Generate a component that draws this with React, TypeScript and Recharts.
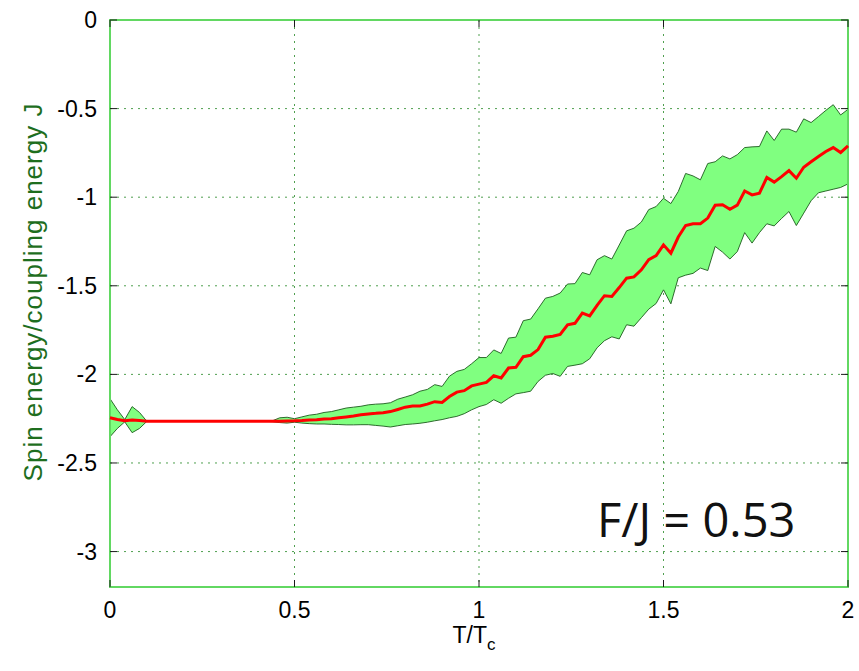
import { ComposedChart, Area, Line, XAxis, YAxis, CartesianGrid, ReferenceArea } from "recharts";

// reduced temperature T/Tc, sampled every 0.02
const temps = [
  0, 0.02, 0.04, 0.06, 0.08, 0.1, 0.12, 0.14, 0.16, 0.18, 0.2, 0.22, 0.24, 0.26, 0.28, 0.3, 0.32, 0.34, 0.36, 0.38,
  0.4, 0.42, 0.44, 0.46, 0.48, 0.5, 0.52, 0.54, 0.56, 0.58, 0.6, 0.62, 0.64, 0.66, 0.68, 0.7, 0.72, 0.74, 0.76, 0.78,
  0.8, 0.82, 0.84, 0.86, 0.88, 0.9, 0.92, 0.94, 0.96, 0.98, 1, 1.02, 1.04, 1.06, 1.08, 1.1, 1.12, 1.14, 1.16, 1.18,
  1.2, 1.22, 1.24, 1.26, 1.28, 1.3, 1.32, 1.34, 1.36, 1.38, 1.4, 1.42, 1.44, 1.46, 1.48, 1.5, 1.52, 1.54, 1.56, 1.58,
  1.6, 1.62, 1.64, 1.66, 1.68, 1.7, 1.72, 1.74, 1.76, 1.78, 1.8, 1.82, 1.84, 1.86, 1.88, 1.9, 1.92, 1.94, 1.96, 1.98, 2,
];

const meanEnergy = [
  -2.245, -2.255, -2.262, -2.258, -2.26, -2.265, -2.265, -2.265, -2.265, -2.265, -2.265, -2.265, -2.265, -2.265, -2.265, -2.265, -2.265, -2.265, -2.265, -2.265,
  -2.265, -2.265, -2.265, -2.265, -2.263, -2.262, -2.26, -2.257, -2.256, -2.252, -2.25, -2.245, -2.24, -2.235, -2.228, -2.223, -2.22, -2.216, -2.21, -2.198,
  -2.185, -2.178, -2.178, -2.168, -2.154, -2.158, -2.125, -2.1, -2.092, -2.065, -2.055, -2.045, -2.008, -2.02, -1.964, -1.96, -1.9, -1.892, -1.86, -1.79,
  -1.785, -1.775, -1.72, -1.712, -1.654, -1.67, -1.61, -1.556, -1.56, -1.51, -1.457, -1.45, -1.41, -1.353, -1.33, -1.269, -1.316, -1.225, -1.16, -1.15,
  -1.15, -1.118, -1.045, -1.043, -1.068, -1.045, -0.965, -0.987, -0.977, -0.889, -0.915, -0.884, -0.85, -0.893, -0.831, -0.8, -0.77, -0.742, -0.72, -0.748, -0.71,
];

const upperEnergy = [
  -2.137, -2.2, -2.255, -2.182, -2.215, -2.265, -2.265, -2.265, -2.265, -2.265, -2.265, -2.265, -2.265, -2.265, -2.265, -2.265, -2.265, -2.265, -2.265, -2.265,
  -2.265, -2.265, -2.262, -2.245, -2.242, -2.25, -2.24, -2.23, -2.225, -2.215, -2.21, -2.2, -2.19, -2.185, -2.18, -2.172, -2.168, -2.166, -2.16, -2.14,
  -2.128, -2.115, -2.095, -2.085, -2.058, -2.068, -2.01, -1.983, -1.972, -1.94, -1.905, -1.905, -1.862, -1.882, -1.795, -1.79, -1.697, -1.688, -1.63, -1.57,
  -1.56, -1.541, -1.49, -1.488, -1.425, -1.438, -1.353, -1.33, -1.349, -1.27, -1.19, -1.175, -1.14, -1.07, -1.053, -1.006, -1.036, -0.968, -0.866, -0.88,
  -0.902, -0.81, -0.8, -0.767, -0.784, -0.76, -0.72, -0.716, -0.714, -0.626, -0.68, -0.616, -0.616, -0.633, -0.558, -0.579, -0.545, -0.51, -0.478, -0.536, -0.504,
];

const lowerEnergy = [
  -2.352, -2.305, -2.268, -2.329, -2.305, -2.265, -2.265, -2.265, -2.265, -2.265, -2.265, -2.265, -2.265, -2.265, -2.265, -2.265, -2.265, -2.265, -2.265, -2.265,
  -2.265, -2.265, -2.267, -2.272, -2.275, -2.27, -2.275, -2.278, -2.28, -2.28, -2.282, -2.283, -2.285, -2.285, -2.284, -2.284, -2.288, -2.292, -2.297, -2.29,
  -2.283, -2.28, -2.276, -2.27, -2.262, -2.255, -2.245, -2.237, -2.222, -2.2, -2.182, -2.17, -2.143, -2.163, -2.135, -2.11, -2.103, -2.095, -2.04, -2.005,
  -1.995, -2.011, -1.955, -1.948, -1.94, -1.912, -1.85, -1.81, -1.788, -1.8, -1.72, -1.728, -1.68, -1.632, -1.6, -1.523, -1.602, -1.455, -1.44, -1.43,
  -1.4, -1.414, -1.278, -1.31, -1.349, -1.307, -1.2, -1.259, -1.2, -1.15, -1.162, -1.12, -1.081, -1.16, -1.09, -1.02, -0.975, -0.965, -0.955, -0.945, -0.925,
];

const xTicks = [0, 0.5, 1, 1.5, 2];
const yTicks = [0, -0.5, -1, -1.5, -2, -2.5, -3];

const rows = temps.map((t, i) => ({
  t,
  mean: meanEnergy[i],
  band: [lowerEnergy[i], upperEnergy[i]],
}));

const W = 859;
const H = 671;
const box = { left: 110, right: 848, top: 20, bottom: 587 };
const font = "'Liberation Sans', Arial, sans-serif";

function XTick(props: any) {
  const { x, payload } = props;
  return (
    <g>
      <line x1={x} x2={x} y1={box.bottom} y2={box.bottom - 7} stroke="#1a1a1a" />
      <line x1={x} x2={x} y1={box.top} y2={box.top + 7} stroke="#1a1a1a" />
      <text x={x} y={box.bottom + 31} textAnchor="middle" fontSize={23} fontFamily={font} fill="#000">
        {payload.value}
      </text>
    </g>
  );
}

function YTick(props: any) {
  const { y, payload } = props;
  return (
    <g>
      <line x1={box.left} x2={box.left + 7} y1={y} y2={y} stroke="#1a1a1a" />
      <line x1={box.right} x2={box.right - 7} y1={y} y2={y} stroke="#1a1a1a" />
      <text x={97} y={y + 8} textAnchor="end" fontSize={23} fontFamily={font} fill="#000">
        {payload.value}
      </text>
    </g>
  );
}

const xLabel = () => (
  <text x={474} y={643} textAnchor="middle" fontSize={23} fontFamily={font} fill="#000">
    T/T
    <tspan fontSize={17} dy={7}>c</tspan>
  </text>
);

const yLabel = () => (
  <text
    x={33}
    y={292}
    transform="rotate(-90 33 292)"
    textAnchor="middle"
    dominantBaseline="central"
    fontSize={26}
    letterSpacing={1}
    fontFamily={font}
    fill="#1e6e1e"
  >
    Spin energy/coupling energy J
  </text>
);

export default function App() {
  return (
    <div style={{ position: "absolute", left: 0, top: 0, width: W, height: H, background: "#fff" }}>
      <ComposedChart width={W} height={H} data={rows} margin={{ top: 20, right: 11, left: 0, bottom: 0 }}>
        <CartesianGrid stroke="#4f9f4f" strokeDasharray="2 5" />
        <XAxis
          dataKey="t"
          type="number"
          domain={[0, 2]}
          ticks={xTicks}
          height={84}
          axisLine={false}
          tickLine={false}
          tick={XTick}
          label={{ content: xLabel }}
        />
        <YAxis
          type="number"
          domain={[-3.2, 0]}
          ticks={yTicks}
          width={110}
          axisLine={false}
          tickLine={false}
          tick={YTick}
          allowDataOverflow
          label={{ content: yLabel }}
        />
        <Area
          dataKey="band"
          type="linear"
          fill="#80ff80"
          fillOpacity={1}
          stroke="#1d5a1d"
          strokeWidth={0.9}
          isAnimationActive={false}
        />
        <Line dataKey="mean" type="linear" stroke="#ff0000" strokeWidth={3} dot={false} isAnimationActive={false} />
        <ReferenceArea x1={0} x2={2} y1={-3.2} y2={0} fill="none" stroke="#62d862" strokeWidth={2} ifOverflow="visible" />
      </ComposedChart>
      <div
        style={{
          position: "absolute",
          left: 597,
          top: 491,
          fontFamily: "'Open Sans', sans-serif",
          fontSize: 47,
          lineHeight: "56px",
          color: "#111",
          whiteSpace: "nowrap",
        }}
      >
        F/J = 0.53
      </div>
    </div>
  );
}
